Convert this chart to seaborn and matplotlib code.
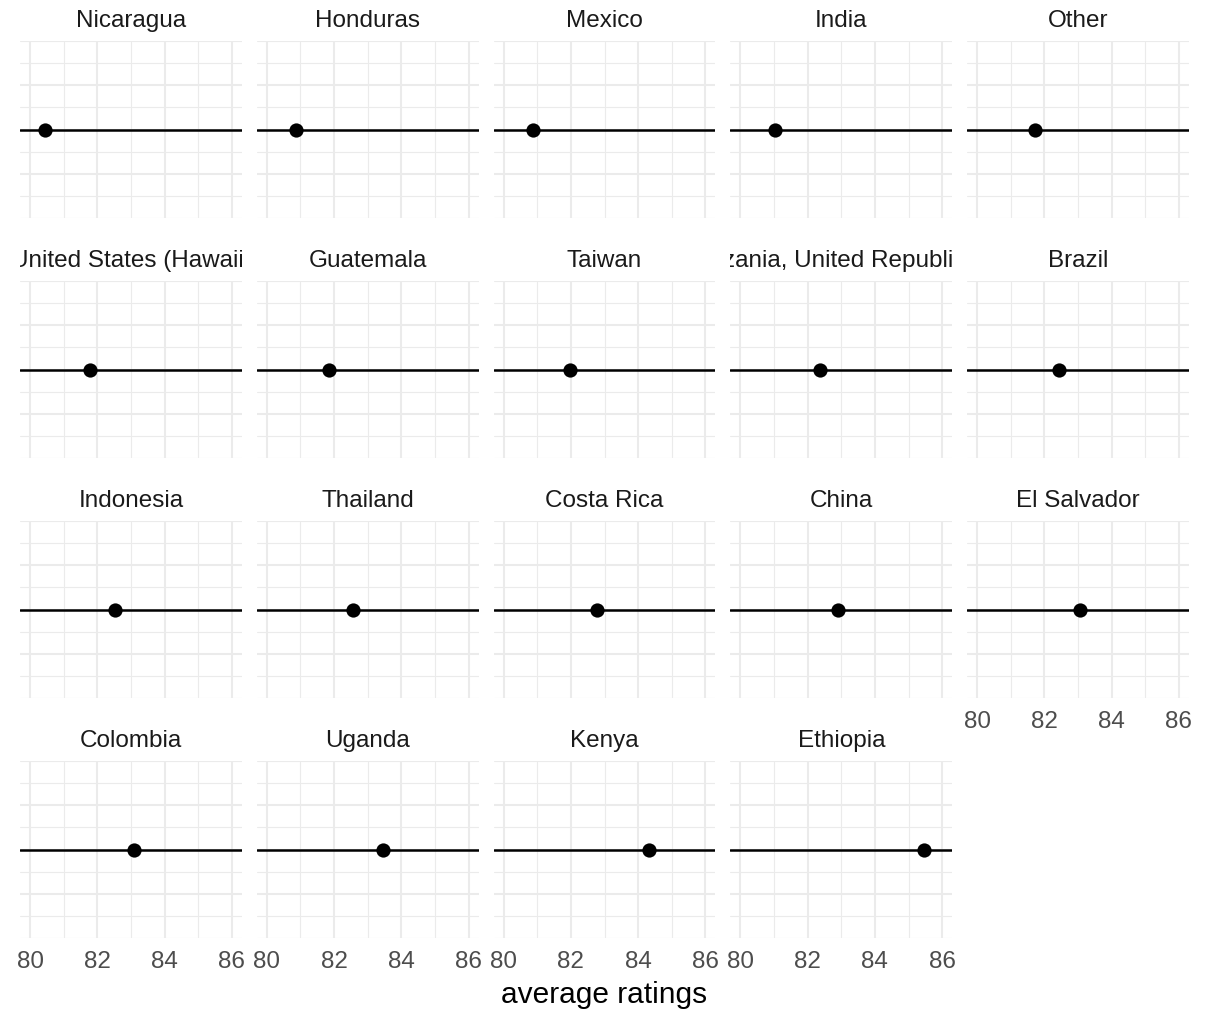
import numpy as np
import pandas as pd
import matplotlib
matplotlib.use("Agg")
import matplotlib.pyplot as plt
import seaborn as sns
from matplotlib.ticker import MultipleLocator
from matplotlib.transforms import Bbox, TransformedBbox

# Average cupping rating per country of origin (facets ordered by rating)
countries = [
    "Nicaragua", "Honduras", "Mexico", "India", "Other",
    "United States (Hawaii)", "Guatemala", "Taiwan",
    "Tanzania, United Republic Of", "Brazil",
    "Indonesia", "Thailand", "Costa Rica", "China", "El Salvador",
    "Colombia", "Uganda", "Kenya", "Ethiopia",
]
avg_ratings = [
    80.43, 80.87, 80.88, 81.04, 81.73,
    81.79, 81.85, 81.97, 82.36, 82.42,
    82.54, 82.57, 82.78, 82.90, 83.07,
    83.08, 83.45, 84.33, 85.47,
]
x_ticks = [80, 82, 84, 86]

df = pd.DataFrame({"country": countries, "rating": avg_ratings, "level": 0.0})

sns.set_theme(style="white")
plt.rcParams["font.family"] = ["Liberation Sans", "DejaVu Sans"]

g = sns.FacetGrid(df, col="country", col_wrap=5, col_order=countries,
                  sharex=True, sharey=True, height=2.0, aspect=1.25,
                  despine=False)


def draw_panel(data, **kws):
    ax = plt.gca()
    ax.axhline(0, color="black", lw=1.8, zorder=2)
    sns.scatterplot(data=data, x="rating", y="level", color="black",
                    s=105, edgecolor="black", linewidth=0, zorder=3, ax=ax)


g.map_dataframe(draw_panel)

fig = g.figure
fig.set_size_inches(12.15, 10.12)
W, H = 1215, 1012
pw, ph = 222, 177
fig.subplots_adjust(left=20 / W, right=1189 / W, top=1 - 42 / H,
                    bottom=1 - 939 / H, wspace=15 / pw, hspace=63 / ph)

grid_c = "#EBEBEB"
for ax, name in zip(g.axes.flat, countries):
    ax.set_xlim(79.7, 86.3)
    ax.set_ylim(-4, 4)
    ax.set_xticks(x_ticks)
    ax.xaxis.set_minor_locator(MultipleLocator(1))
    ax.set_yticks([-2, 0, 2])
    ax.set_yticks([-4, -3, -1, 1, 3, 4], minor=True)
    ax.grid(which="major", color=grid_c, lw=1.5, zorder=0)
    ax.grid(which="minor", color=grid_c, lw=0.8, zorder=0)
    ax.set_axisbelow(True)
    for s in ax.spines.values():
        s.set_visible(False)
    ax.tick_params(axis="both", which="both", length=0)
    ax.tick_params(axis="x", labelsize=17.5, labelcolor="#4D4D4D", pad=9)
    ax.set_yticklabels([])
    ax.set_xlabel("")
    ax.set_ylabel("")
    ax.set_title("")
    t = ax.text(0.5, 1 + 15 / ph, name, transform=ax.transAxes,
                ha="center", va="baseline", fontsize=17.5, color="#1A1A1A")
    clip = TransformedBbox(Bbox([[0, 1], [1, 1.5]]), ax.transAxes)
    t.set_clip_box(clip)
    t.set_clip_on(True)

fig.text(604 / W, (H - 1003) / H, "average ratings", ha="center",
         va="baseline", fontsize=21.5, color="black")

fig.savefig("out.png", dpi=100, facecolor="white")
